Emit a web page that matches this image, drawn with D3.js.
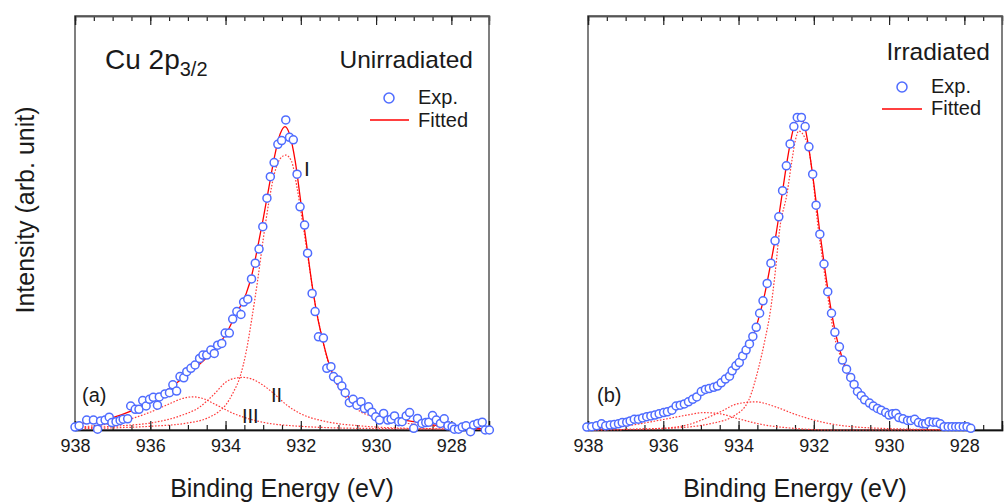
<!DOCTYPE html>
<html>
<head>
<meta charset="utf-8">
<script src="https://cdn.jsdelivr.net/npm/d3@7"></script>
<style>
body { margin: 0; background: #fff; }
svg text { font-family: "Liberation Sans", Arial, sans-serif; fill: #1a1a1a; }
</style>
</head>
<body>
<script>
// binding energy (eV) / intensity (arb. unit)
var expA = [[938.00,0.7],[937.89,1.0],[937.69,2.4],[937.51,2.4],[937.40,0.2],[937.32,2.2],[937.20,2.4],[937.09,3.1],[937.02,1.8],[936.91,2.0],[936.80,2.3],[936.72,2.6],[936.60,2.7],[936.52,5.8],[936.40,5.0],[936.30,5.0],[936.20,7.1],[936.11,5.8],[936.02,7.4],[935.92,7.9],[935.81,6.0],[935.76,8.0],[935.61,8.7],[935.49,9.0],[935.40,10.9],[935.30,9.4],[935.21,12.9],[935.11,12.6],[935.03,14.1],[934.92,14.9],[934.81,15.7],[934.69,17.3],[934.60,18.1],[934.50,18.1],[934.39,19.3],[934.30,18.5],[934.21,20.5],[934.10,20.9],[934.01,23.4],[933.90,23.4],[933.81,26.8],[933.70,28.6],[933.59,27.9],[933.52,30.9],[933.41,31.6],[933.31,36.5],[933.21,40.3],[933.11,43.7],[933.01,49.1],[932.90,56.0],[932.81,61.2],[932.71,64.6],[932.61,69.0],[932.51,69.9],[932.40,74.9],[932.30,70.7],[932.20,70.1],[932.10,61.8],[932.02,53.9],[931.90,49.5],[931.82,42.7],[931.70,33.0],[931.62,28.6],[931.53,22.5],[931.40,22.2],[931.31,14.9],[931.20,15.3],[931.13,12.9],[931.01,12.1],[930.91,10.6],[930.82,9.0],[930.71,6.6],[930.61,7.4],[930.51,6.0],[930.40,6.8],[930.31,5.2],[930.20,5.6],[930.11,4.3],[930.01,3.2],[929.91,2.4],[929.80,4.0],[929.69,2.4],[929.60,2.6],[929.51,3.4],[929.40,2.0],[929.31,2.0],[929.20,3.4],[929.11,4.2],[929.00,0.4],[928.90,2.8],[928.78,1.6],[928.68,1.8],[928.60,1.9],[928.50,3.5],[928.40,2.4],[928.29,1.6],[928.19,2.7],[928.09,1.0],[927.98,0.8],[927.92,0.2],[927.81,0.2],[927.71,0.7],[927.61,1.0],[927.49,-0.4],[927.41,1.2],[927.30,1.6],[927.18,1.9],[927.10,0.0],[926.99,0.0]];

var fitA = [[938.0,1.4],[937.5,2.0],[937.0,3.0],[936.5,4.6],[936.0,7.0],[935.5,10.0],[935.0,13.5],[934.5,17.5],[934.2,20.5],[934.0,23.0],[933.8,26.5],[933.6,30.0],[933.45,33.0],[933.3,37.5],[933.15,44.0],[933.0,51.0],[932.85,58.5],[932.7,66.0],[932.55,71.5],[932.42,73.3],[932.3,71.5],[932.15,65.0],[932.0,55.0],[931.85,45.0],[931.7,35.0],[931.55,27.0],[931.4,21.0],[931.25,16.0],[931.1,12.5],[930.9,9.5],[930.6,7.0],[930.3,5.3],[930.0,4.0],[929.5,2.8],[929.0,2.0],[928.3,1.0],[927.0,0.3]];

var peakA1 = [[938.0,0.3],[937.0,0.5],[936.0,0.9],[935.0,1.7],[934.5,2.8],[934.2,4.3],[934.0,6.0],[933.8,9.0],[933.61,13.0],[933.45,19.0],[933.3,27.0],[933.15,36.0],[933.0,46.0],[932.85,55.0],[932.7,62.0],[932.55,65.5],[932.4,66.4],[932.25,65.0],[932.1,58.5],[931.95,50.0],[931.8,41.0],[931.65,32.0],[931.5,25.0],[931.35,19.0],[931.15,13.0],[930.9,9.0],[930.5,5.0],[930.0,3.0],[929.5,2.0],[929.0,1.4],[928.0,0.6],[927.0,0.3]];
var peakA2 = [[938.0,0.5],[936.8,1.0],[935.92,1.8],[935.21,3.4],[934.68,5.6],[934.32,8.5],[933.97,11.7],[933.75,12.5],[933.52,12.7],[933.3,12.3],[933.08,11.3],[932.73,8.9],[932.37,6.0],[932.02,4.0],[931.31,2.0],[930.42,1.0],[929.09,0.4],[927.0,0.2]];
var peakA3 = [[938.0,0.65],[937.51,1.0],[936.8,2.0],[936.09,4.0],[935.47,6.4],[935.15,7.6],[934.87,8.0],[934.6,7.6],[934.32,6.4],[933.79,4.0],[933.08,2.0],[932.19,1.0],[930.42,0.4],[927.0,0.2]];

var expB = [[938.03,0.7],[937.90,0.8],[937.77,1.0],[937.64,1.5],[937.53,1.0],[937.41,1.2],[937.30,1.3],[937.19,1.5],[937.09,1.8],[936.97,1.9],[936.88,2.2],[936.77,2.6],[936.66,2.6],[936.55,2.9],[936.44,3.2],[936.33,3.4],[936.22,3.6],[936.11,3.9],[935.99,4.2],[935.89,4.4],[935.77,4.8],[935.66,5.8],[935.55,6.0],[935.44,6.3],[935.33,6.8],[935.22,7.4],[935.11,8.0],[934.99,9.3],[934.88,9.8],[934.78,10.0],[934.66,10.3],[934.56,10.6],[934.46,11.4],[934.35,12.3],[934.24,13.0],[934.17,14.3],[934.07,15.5],[933.98,16.3],[933.89,17.9],[933.80,19.3],[933.71,20.8],[933.62,22.6],[933.53,24.8],[933.44,28.2],[933.35,31.2],[933.24,35.4],[933.14,40.3],[933.03,45.7],[932.93,51.5],[932.83,57.8],[932.73,63.8],[932.63,69.1],[932.53,73.3],[932.44,75.5],[932.33,75.5],[932.23,73.3],[932.13,68.4],[932.03,61.8],[931.94,54.3],[931.84,47.3],[931.73,40.1],[931.63,33.4],[931.53,28.2],[931.44,23.6],[931.32,20.1],[931.24,16.9],[931.13,14.7],[931.02,12.7],[930.93,11.0],[930.84,9.3],[930.74,8.3],[930.65,7.3],[930.52,6.5],[930.42,5.8],[930.31,5.2],[930.21,4.8],[930.09,4.2],[930.00,3.6],[929.91,3.9],[929.82,4.0],[929.74,3.0],[929.63,2.7],[929.51,2.3],[929.42,2.3],[929.32,2.6],[929.22,1.8],[929.11,1.5],[929.03,1.5],[928.94,2.0],[928.83,1.9],[928.74,1.9],[928.64,1.5],[928.54,0.8],[928.43,0.8],[928.33,0.8],[928.23,0.8],[928.14,0.8],[928.03,0.8],[927.93,0.8],[927.83,0.4]];

var fitB = [[938.0,0.6],[937.5,1.0],[937.0,1.8],[936.5,3.0],[936.0,4.2],[935.5,6.0],[935.0,8.8],[934.5,11.0],[934.2,13.6],[934.0,16.0],[933.8,19.0],[933.6,23.0],[933.45,27.5],[933.3,33.0],[933.15,40.0],[933.0,47.5],[932.85,56.5],[932.7,65.5],[932.55,72.5],[932.4,75.3],[932.28,74.5],[932.15,69.0],[932.0,59.5],[931.85,48.5],[931.7,38.5],[931.55,29.5],[931.4,22.5],[931.25,17.5],[931.1,14.0],[930.9,10.5],[930.65,7.6],[930.4,5.8],[930.1,4.4],[929.7,3.1],[929.2,2.0],[928.6,1.2],[927.8,0.5]];

var peakB1 = [[938.0,0.0],[937.19,0.1],[935.86,0.4],[934.71,1.6],[934.09,3.6],[933.73,7.2],[933.46,15.3],[933.3,21.7],[933.15,29.0],[933.02,38.6],[932.91,48.3],[932.71,57.2],[932.58,65.2],[932.49,70.0],[932.4,72.2],[932.25,70.8],[932.13,67.6],[932.03,61.2],[931.9,50.0],[931.75,40.0],[931.6,30.5],[931.45,22.5],[931.3,18.0],[931.1,13.0],[930.9,9.6],[930.6,6.5],[930.3,4.6],[930.0,3.3],[929.5,2.2],[929.0,1.5],[928.5,1.0],[927.8,0.6]];
var peakB2 = [[938.0,0.0],[936.08,0.4],[935.37,1.2],[934.93,2.6],[934.48,4.4],[934.04,6.3],[933.55,6.8],[933.02,5.6],[932.53,3.9],[932.0,2.4],[931.2,1.0],[929.87,0.3],[927.8,0.0]];
var peakB3 = [[937.86,0.3],[936.97,1.0],[936.08,2.4],[935.37,3.6],[934.93,4.2],[934.48,3.9],[934.04,2.8],[933.42,1.4],[932.53,0.4],[931.5,0.0],[927.8,0.0]];

var energyRange = [938, 927];
var majorTicks = [938, 936, 934, 932, 930, 928];

var w = 1004;
var h = 502;
var plotTop = 16, plotBottom = 430;

var svg = d3.select("body")
	.append("svg")
	.attr("width", w)
	.attr("height", h);

var y = d3.scaleLinear().domain([0, 100]).range([plotBottom, plotTop]);

function drawPanel(left, right, exp, fit, peaks) {
	var x = d3.scaleLinear().domain(energyRange).range([left, right]);
	var minor = d3.range(927.5, 938.01, 0.5);
	var g = svg.append("g");

	// frame
	g.append("rect")
		.attr("x", left).attr("y", plotTop)
		.attr("width", right - left).attr("height", plotBottom - plotTop)
		.attr("fill", "none")
		.attr("stroke", "#555")
		.attr("stroke-width", 1.5);

	// ticks point inward, top and bottom
	g.append("g").attr("transform", "translate(0," + plotBottom + ")")
		.call(d3.axisBottom(x).tickValues(minor).tickSize(-5).tickFormat(""));
	g.append("g").attr("transform", "translate(0," + plotTop + ")")
		.call(d3.axisTop(x).tickValues(minor).tickSize(-5).tickFormat(""));
	g.append("g").attr("transform", "translate(0," + plotTop + ")")
		.call(d3.axisTop(x).tickValues(majorTicks).tickSize(-9).tickFormat(""));
	var ax = g.append("g").attr("transform", "translate(0," + plotBottom + ")")
		.call(d3.axisBottom(x).tickValues(majorTicks).tickSize(-9).tickPadding(9).tickFormat(d3.format("d")));
	ax.selectAll("text").attr("font-size", 18).attr("font-family", null);
	g.selectAll(".domain").attr("stroke", "#555").attr("stroke-width", 1.5);
	ax.select(".domain").attr("stroke", "#111");
	g.selectAll(".tick line").attr("stroke", "#222").attr("stroke-width", 1.2);

	var line = d3.line()
		.x(function(d) { return x(d[0]); })
		.y(function(d) { return y(d[1]); })
		.curve(d3.curveMonotoneX);

	peaks.forEach(function(p) {
		g.append("path")
			.attr("d", line(p))
			.attr("fill", "none")
			.attr("stroke", "#ff3b3b")
			.attr("stroke-width", 1.2)
			.attr("stroke-dasharray", "1.6,1.6");
	});

	g.append("path")
		.attr("d", line(fit))
		.attr("fill", "none")
		.attr("stroke", "#ff0000")
		.attr("stroke-width", 1.3);

	g.selectAll("circle.pt")
		.data(exp)
		.enter()
		.append("circle")
		.attr("class", "pt")
		.attr("cx", function(d) { return x(d[0]); })
		.attr("cy", function(d) { return y(d[1]); })
		.attr("r", 4)
		.attr("fill", "#fff")
		.attr("stroke", "#4f6cff")
		.attr("stroke-width", 1.5);

	svg.append("text")
		.attr("x", (left + right) / 2)
		.attr("y", 497)
		.attr("text-anchor", "middle")
		.attr("font-size", 25)
		.text("Binding Energy (eV)");
}

drawPanel(75, 489, expA, fitA, [peakA1, peakA2, peakA3]);
drawPanel(588, 1002, expB, fitB, [peakB1, peakB2, peakB3]);

// y label
svg.append("text")
	.attr("transform", "translate(34,210) rotate(-90)")
	.attr("text-anchor", "middle")
	.attr("font-size", 25)
	.text("Intensity (arb. unit)");

// panel (a) texts
var cu = svg.append("text").attr("x", 105).attr("y", 69).attr("font-size", 28);
cu.append("tspan").text("Cu 2p");
cu.append("tspan").attr("font-size", 20).attr("dy", 7).text("3/2");

svg.append("text").attr("x", 473).attr("y", 68).attr("text-anchor", "end").attr("font-size", 24.5).text("Unirradiated");
svg.append("circle").attr("cx", 389).attr("cy", 98).attr("r", 5).attr("fill", "#fff").attr("stroke", "#4f6cff").attr("stroke-width", 1.5);
svg.append("text").attr("x", 418).attr("y", 104).attr("font-size", 20).text("Exp.");
svg.append("line").attr("x1", 370).attr("x2", 409).attr("y1", 120).attr("y2", 120).attr("stroke", "#ff0000").attr("stroke-width", 1.3);
svg.append("text").attr("x", 418).attr("y", 127).attr("font-size", 20).text("Fitted");
svg.append("text").attr("x", 82).attr("y", 402).attr("font-size", 20).text("(a)");
svg.append("text").attr("x", 304).attr("y", 176).attr("font-size", 21).text("I");
svg.append("text").attr("x", 271).attr("y", 402).attr("font-size", 20).text("II");
svg.append("text").attr("x", 242).attr("y", 423).attr("font-size", 20).text("III");

// panel (b) texts
svg.append("text").attr("x", 990).attr("y", 60).attr("text-anchor", "end").attr("font-size", 24.5).text("Irradiated");
svg.append("circle").attr("cx", 902).attr("cy", 87).attr("r", 5).attr("fill", "#fff").attr("stroke", "#4f6cff").attr("stroke-width", 1.5);
svg.append("text").attr("x", 931).attr("y", 93).attr("font-size", 20).text("Exp.");
svg.append("line").attr("x1", 882).attr("x2", 922).attr("y1", 109).attr("y2", 109).attr("stroke", "#ff0000").attr("stroke-width", 1.3);
svg.append("text").attr("x", 931).attr("y", 115).attr("font-size", 20).text("Fitted");
svg.append("text").attr("x", 597).attr("y", 402).attr("font-size", 20).text("(b)");
</script>
</body>
</html>
